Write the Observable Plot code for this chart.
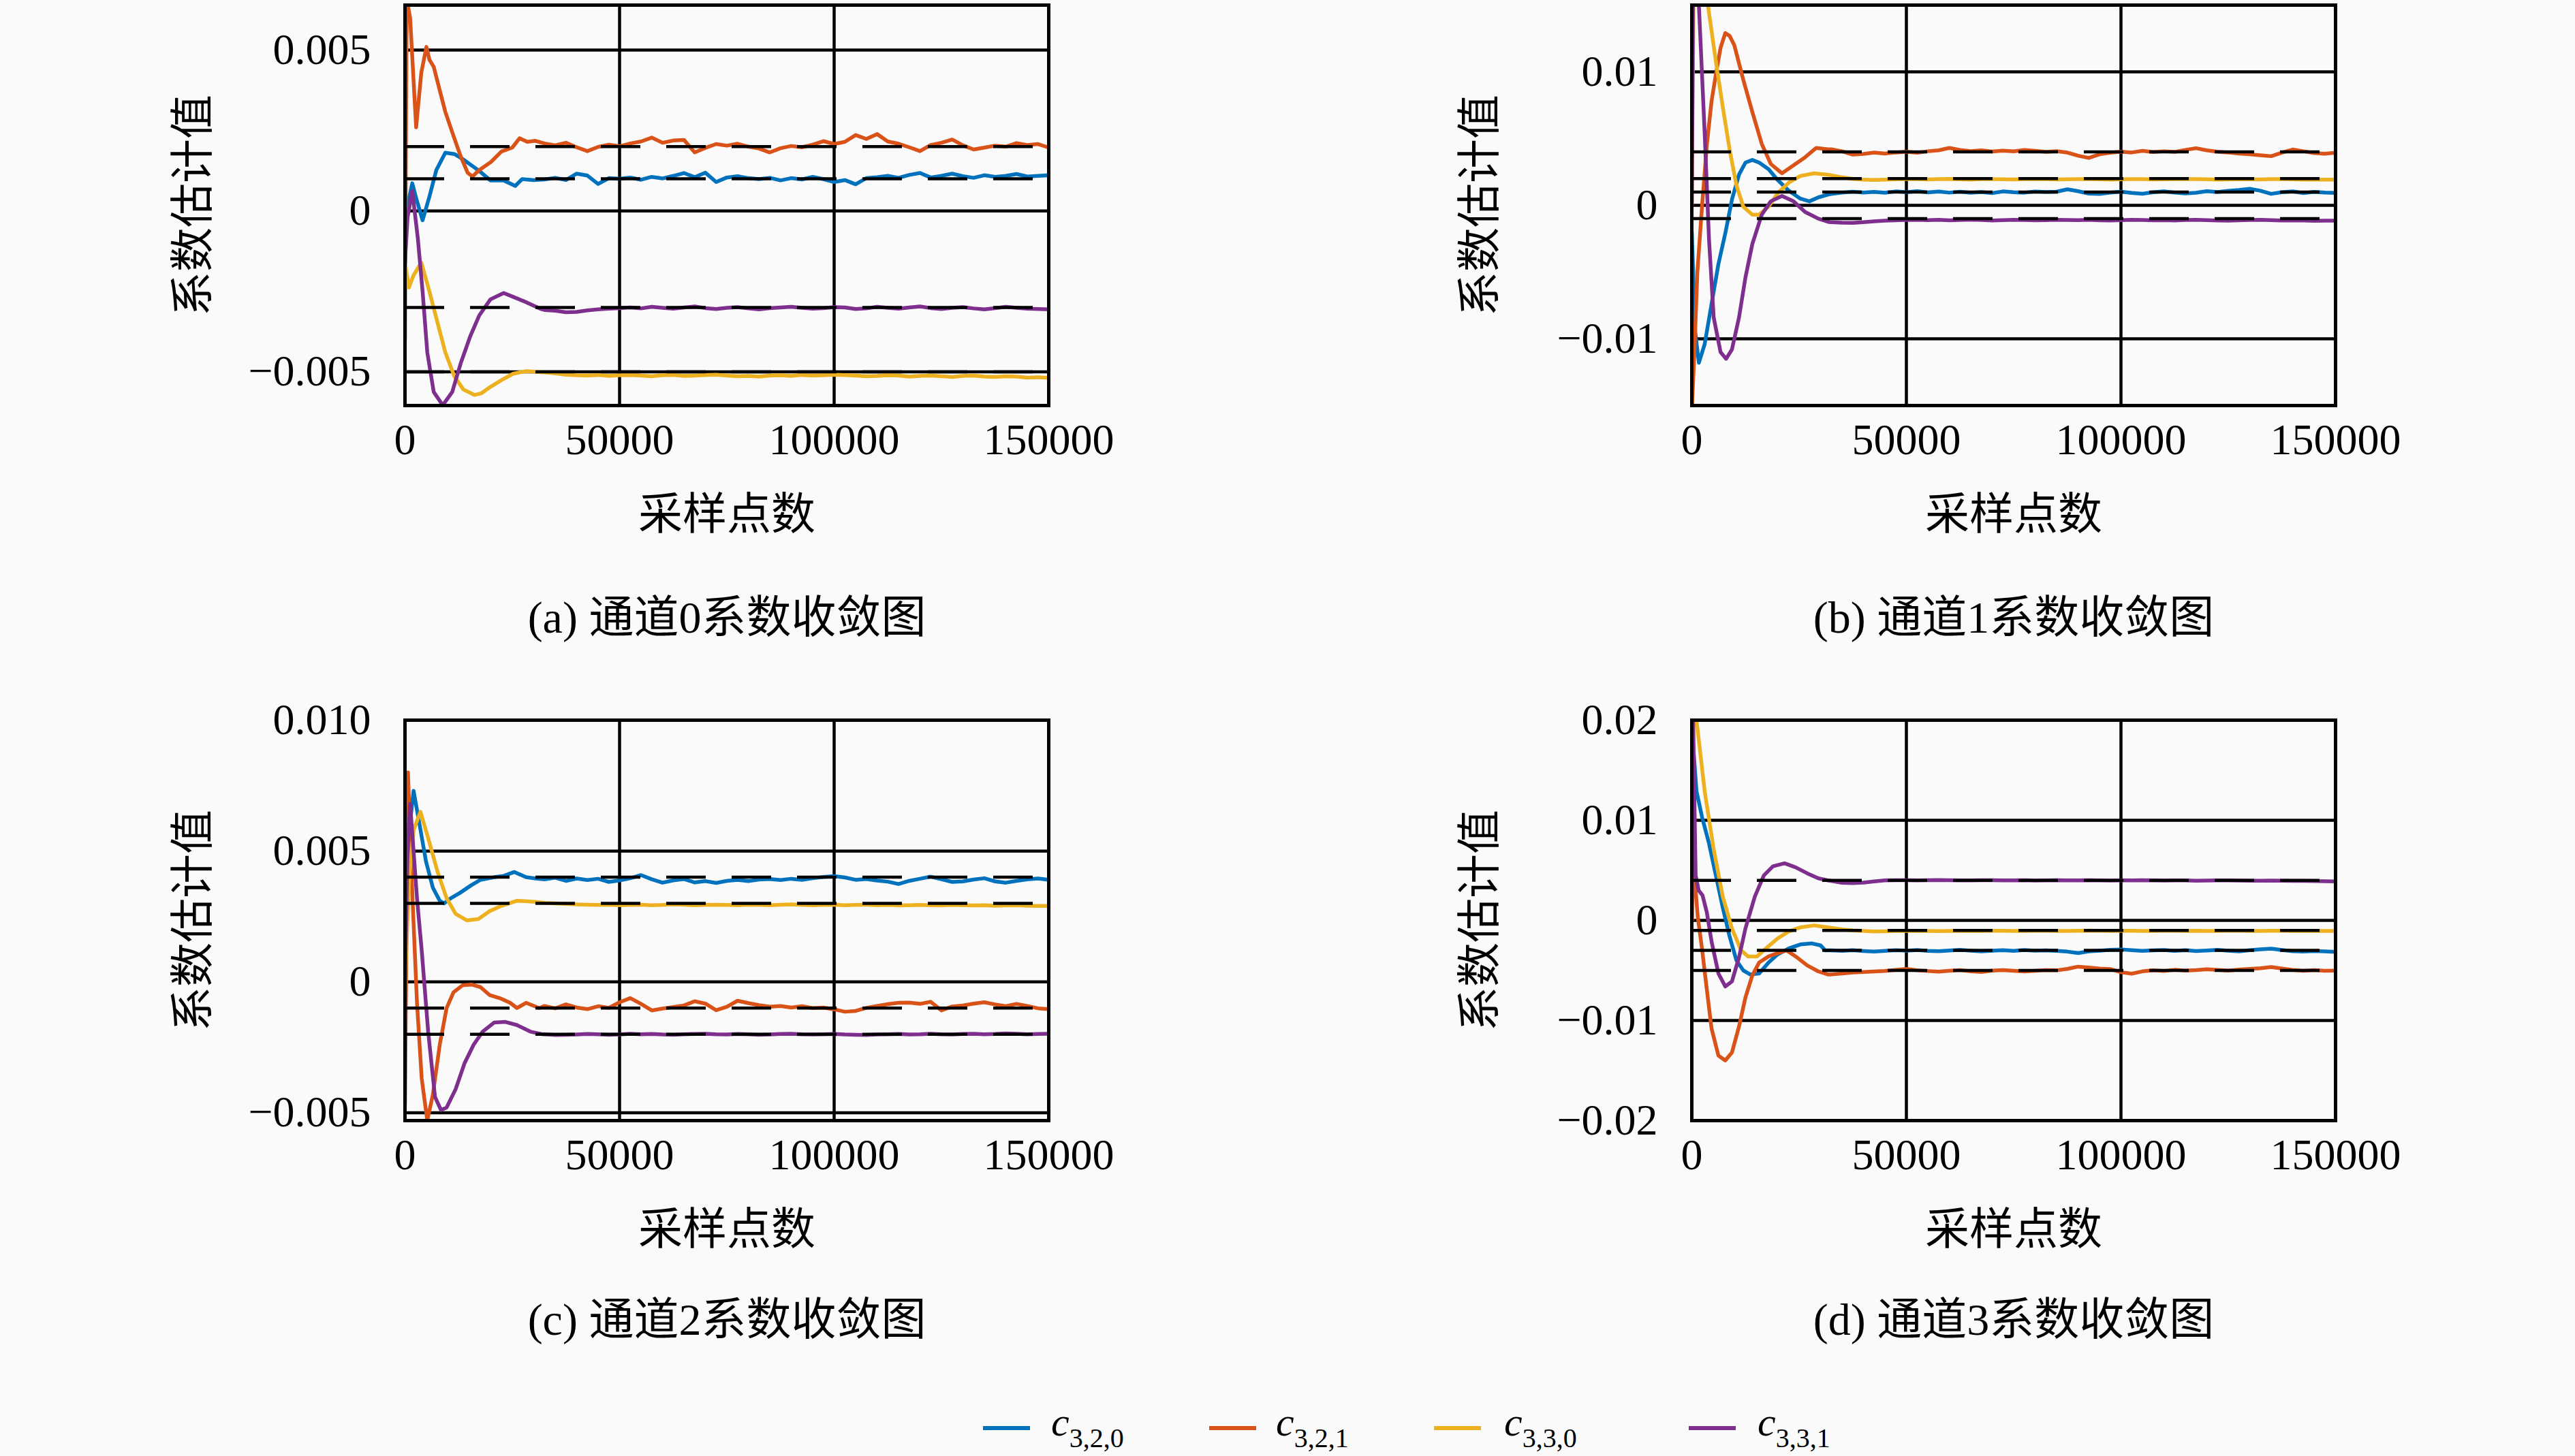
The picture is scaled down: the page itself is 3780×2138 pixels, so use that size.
<!DOCTYPE html>
<html>
<head>
<meta charset="utf-8">
<script src="https://cdn.jsdelivr.net/npm/d3@7"></script>
<script src="https://cdn.jsdelivr.net/npm/@observablehq/plot@0.6"></script>
<style>
  html, body { margin: 0; padding: 0; background: #fafafa; }
  #root { position: relative; width: 3780px; height: 2138px; background: #fafafa; overflow: hidden;
          font-family: "Liberation Serif", "Noto Sans CJK SC", serif; }
  .panel { position: absolute; }
  .panel svg { overflow: visible; }
</style>
</head>
<body>
<div id="root"></div>
<script>
// ---------- shared definitions ----------
const seriesNames = ["c320", "c321", "c330", "c331"];
const seriesColors = ["#0072BD", "#D95319", "#EDB120", "#7E2F8E"];
const legendSub = ["3,2,0", "3,2,1", "3,3,0", "3,3,1"];
const xTicks = [0, 50000, 100000, 150000];
const xLabel = "采样点数";
const yLabel = "系数估计值";
// steady-state sample grid (thousands of samples)
const gridK = [
  32.5, 35, 37.5, 40, 42.5, 45, 47.5, 50,
  52.5, 55, 57.5, 60, 62.5, 65, 67.5, 70,
  72.5, 75, 77.5, 80, 82.5, 85, 87.5, 90,
  92.5, 95, 97.5, 100, 102.5, 105, 107.5, 110,
  112.5, 115, 117.5, 120, 122.5, 125, 127.5, 130,
  132.5, 135, 137.5, 140, 142.5, 145, 147.5, 150
];
// values below are in units of 1e-4; transient x in thousands of samples

// ---------- panel (a) channel 0 ----------
const aTrue = [10, 20, -50, -30];
const aBlueT = [[0,-9],[0.8,3],[1.7,8.6],[2.6,4],[4.1,-2.9],[5.7,4.5],[7.3,12.7],[9.4,18.1],[11.5,17.7],[13.6,16],[15.7,14],[17.8,11.9],[19.9,9.5],[23,9.5],[25.7,7.8],[27.3,9.9],[30,9.6]];
const aBlueS = [
  9.8, 10.3, 9.6, 11.6, 11.0, 8.4, 10.2, 10.0,
  10.4, 9.7, 10.6, 10.1, 10.9, 11.8, 10.5, 11.9,
  9.0, 10.4, 10.8, 10.2, 9.9, 10.3, 9.5, 10.2,
  9.8, 10.6, 9.9, 9.0, 9.6, 8.3, 10.2, 10.5,
  10.9, 10.3, 11.2, 11.8, 10.4, 10.9, 11.6, 10.8,
  10.3, 11.1, 10.6, 10.9, 11.5, 10.7, 10.9, 11.1];
const aOrangeT = [[0,-40],[0.4,66],[1.2,60],[2.6,26],[3.8,43],[5,51],[5.7,47],[6.7,44.8],[8,38],[9.4,30.8],[11.5,22.6],[13,16.9],[14.6,11.9],[15.7,10.7],[17.3,12.7],[20,15.2],[22.5,18.5],[25,19.7],[26.7,22.6],[28.5,21.5],[30.4,21.8]];
const aOrangeS = [
  21.0, 20.4, 21.2, 19.8, 18.6, 19.9, 20.6, 20.1,
  21.0, 21.6, 22.8, 21.2, 21.9, 22.1, 18.2, 19.6,
  20.8, 20.3, 20.9, 20.0, 19.4, 18.2, 19.5, 20.2,
  19.8, 20.6, 21.7, 20.8, 21.5, 23.6, 22.4, 23.9,
  21.6, 20.9, 19.8, 18.6, 20.5, 21.2, 22.2, 20.4,
  19.1, 19.7, 20.3, 20.0, 21.1, 20.5, 20.8, 19.7];
const aYellowT = [[0,-16],[0.9,-23.8],[2,-20],[3.8,-16],[5.7,-25.1],[7.3,-33.3],[9.4,-44],[11.5,-51.4],[13.6,-55.5],[16.2,-57.2],[17.8,-56.7],[19.9,-54.7],[22.5,-52.6],[25.2,-50.6],[28.3,-49.8],[30.5,-50]];
const aYellowS = [
  -50.2, -50.5, -50.9, -51.1, -51.2, -51.0, -51.3, -51.1,
  -51.0, -51.2, -51.4, -51.1, -51.0, -51.3, -51.2, -51.0,
  -50.9, -51.2, -51.4, -51.3, -51.5, -51.2, -51.1, -51.3,
  -51.0, -51.2, -51.1, -50.9, -51.0, -51.2, -51.4, -51.3,
  -51.1, -51.2, -51.5, -51.3, -51.2, -51.4, -51.6, -51.3,
  -51.2, -51.5, -51.6, -51.4, -51.5, -51.8, -51.7, -51.9];
const aPurpleT = [[0,-16],[0.6,-2],[1.7,6.2],[3,-8.6],[4.1,-25],[5.2,-44],[6.7,-56.3],[8.8,-60.4],[11,-56.3],[13,-47.3],[15.2,-39],[17.3,-32.5],[19.9,-27.5],[23,-25.5],[25.2,-26.7],[28.3,-28.4],[31.5,-30.4]];
const aPurpleS = [
  -30.8, -31.0, -31.5, -31.4, -30.9, -30.6, -30.4, -30.2,
  -30.0, -30.3, -29.8, -30.1, -30.4, -30.0, -29.7, -30.2,
  -30.5, -30.1, -29.9, -30.3, -30.6, -30.2, -30.0, -29.8,
  -30.1, -30.4, -30.2, -29.9, -30.0, -30.5, -30.3, -29.8,
  -30.1, -30.4, -30.0, -29.7, -30.2, -30.5, -30.1, -29.9,
  -30.3, -30.6, -30.2, -29.8, -30.1, -30.4, -30.5, -30.6];

// ---------- panel (b) channel 1 ----------
const bTrue = [10, 40, 20, -10];
const bBlueT = [[0,-20],[0.8,-95],[1.65,-118],[3,-104],[4.6,-74],[6.2,-44],[7.8,-21],[9.4,5],[11,23],[12.5,32],[14.1,34],[15.7,32],[17.9,27],[20,19],[22.6,11],[25.3,5],[27.4,3],[29.5,6],[31.7,8]];
const bBlueS = [
  8.5, 9.5, 10.2, 9.6, 10.1, 9.4, 10.4, 9.8,
  10.6, 9.7, 10.3, 9.5, 10.2, 9.4, 10.0, 9.2,
  10.4, 9.8, 9.5, 10.3, 9.9, 10.2, 12.0, 10.6,
  8.8, 8.5, 9.6, 10.2, 9.3, 8.7, 9.8, 10.5,
  9.6, 8.9, 9.4, 10.6, 10.0, 10.8, 11.5, 12.4,
  10.9, 8.6, 9.8, 10.5, 9.2, 10.1, 9.6, 9.3];
const bOrangeT = [[0,-155],[0.6,-110],[1.3,-50],[2.4,0],[3.5,45],[4.6,78],[5.6,98],[6.7,118],[7.8,129],[8.8,127],[9.9,120],[12,94],[14.1,70],[16.3,46],[18.4,31],[21,24],[23.7,30],[26.4,36],[29,43],[31.7,42]];
const bOrangeS = [
  42.0, 40.5, 38.0, 38.5, 39.5, 38.8, 39.6, 40.2,
  39.4, 40.5, 41.2, 43.0, 41.5, 40.6, 41.2, 40.3,
  41.0, 40.4, 41.5, 40.8, 40.1, 40.6, 39.5, 37.2,
  35.5, 38.2, 39.4, 40.2, 39.6, 40.8, 39.9, 40.5,
  40.0, 41.5, 42.8, 41.2, 40.2, 39.6, 38.8, 38.2,
  37.5, 36.8, 39.5, 41.8, 40.5, 39.2, 38.6, 39.4];
const bYellowT = [[0,0],[0.4,160],[2,175],[3.8,149],[5.6,108],[7.2,74],[8.8,42],[10.4,15],[12,-1],[14.1,-7],[15.7,-7],[17.9,-1],[20,9],[22.6,17],[25.3,22],[28.5,24],[31.7,23]];
const bYellowS = [
  22.5, 21.0, 19.8, 19.2, 19.0, 19.3, 19.5, 19.7,
  19.6, 19.4, 19.6, 19.8, 19.5, 19.3, 19.6, 19.7,
  19.5, 19.4, 19.6, 19.8, 19.6, 19.4, 19.5, 19.7,
  19.6, 19.5, 19.3, 19.5, 19.7, 19.6, 19.4, 19.5,
  19.6, 19.8, 19.6, 19.5, 19.3, 19.4, 19.6, 19.5,
  19.4, 19.6, 19.7, 19.5, 19.3, 19.4, 19.3, 19.2];
const bPurpleT = [[0,0],[0.3,160],[1.0,170],[1.65,150],[3,54],[4,-25],[5.1,-84],[6.7,-110],[8,-115],[9.35,-108],[11,-84],[12.5,-54],[14.1,-29],[16.3,-7],[18.4,3],[21,7],[23.7,3],[26.4,-5],[29.5,-10],[32,-12.5]];
const bPurpleS = [
  -12.6, -13.0, -13.1, -12.6, -12.0, -11.5, -11.2, -11.0,
  -10.8, -11.1, -10.9, -11.2, -11.0, -10.7, -11.0, -11.3,
  -11.1, -10.9, -11.0, -11.2, -11.1, -10.8, -11.0, -11.1,
  -10.9, -11.2, -11.4, -11.1, -10.9, -11.0, -11.2, -11.1,
  -11.3, -11.0, -10.8, -11.1, -11.4, -11.5, -11.2, -11.0,
  -10.9, -11.1, -11.3, -11.2, -11.4, -11.6, -11.5, -11.5];

// ---------- panel (c) channel 2 ----------
const cTrue = [40, -10, 30, -20];
const cBlueT = [[0,0],[0.8,55],[2,73],[3.3,61],[4.9,46],[6.5,36],[8.1,31],[9.1,30],[10.7,32],[12.8,34],[15.5,37],[17.6,39],[20.8,40],[23,40.5],[25.5,42],[28.2,40],[30.5,39.5]];
const cBlueS = [
  39.2, 39.8, 38.6, 39.5, 38.9, 39.4, 38.2, 38.8,
  39.6, 40.8, 39.2, 37.9, 38.8, 39.3, 38.0, 38.5,
  37.8, 38.6, 39.0, 38.5, 39.1, 39.3, 38.9, 39.4,
  39.0, 39.6, 40.1, 40.4, 39.9, 39.0, 39.3, 38.7,
  38.3, 37.4, 38.6, 39.4, 40.2, 39.2, 38.2, 38.4,
  39.1, 39.6, 38.4, 37.9, 38.6, 39.2, 39.5, 39.0];
const cOrangeT = [[0,-47],[0.7,80],[1.75,32],[2.8,-8],[3.9,-37],[5.2,-53],[6.5,-43],[8.1,-24],[9.7,-10],[11.3,-4],[13.4,-1.3],[15.5,-1],[17.6,-2],[19.7,-5],[22.4,-6.4],[24.5,-8],[26.1,-10],[28.2,-8],[31.3,-10]];
const cOrangeS = [
  -9.2, -10.1, -8.6, -9.8, -10.4, -9.3, -9.9, -7.8,
  -6.2, -8.4, -10.9, -10.2, -9.6, -9.0, -7.4, -8.3,
  -10.8, -9.5, -7.2, -8.1, -8.9, -9.5, -9.2, -9.8,
  -9.3, -10.0, -9.8, -10.5, -11.4, -11.1, -9.9, -9.2,
  -8.5, -8.0, -7.9, -8.4, -7.6, -10.9, -9.4, -9.0,
  -8.3, -7.8, -8.6, -9.3, -8.4, -9.2, -10.1, -10.4];
const cYellowT = [[0,0],[1,40],[2,58],[3.6,65],[5.4,55],[7.6,42],[9.7,32],[11.8,26],[14.4,23.5],[17.1,24],[19.7,27],[22.4,29],[26.1,31],[30.3,30.6]];
const cYellowS = [
  30.2, 30.0, 29.8, 29.6, 29.5, 29.4, 29.5, 29.3,
  29.4, 29.5, 29.3, 29.4, 29.6, 29.5, 29.3, 29.4,
  29.5, 29.4, 29.3, 29.5, 29.4, 29.3, 29.5, 29.6,
  29.4, 29.3, 29.4, 29.5, 29.3, 29.4, 29.5, 29.3,
  29.4, 29.2, 29.3, 29.4, 29.3, 29.2, 29.4, 29.3,
  29.2, 29.3, 29.1, 29.2, 29.3, 29.1, 29.0, 29.0];
const cPurpleT = [[0,0],[0.6,50],[1.2,68],[2.8,32],[3.9,12],[5.4,-19],[7,-44],[8.4,-49],[9.7,-48],[11.8,-41],[13.9,-31],[16,-24],[18.1,-19],[20.8,-15.5],[23.4,-15.3],[26.1,-16.5],[29.2,-19],[32,-20]];
const cPurpleS = [
  -20.0, -20.3, -20.2, -20.1, -19.9, -20.0, -20.2, -20.1,
  -19.8, -20.0, -19.9, -20.1, -20.2, -20.0, -19.9, -19.8,
  -20.0, -20.1, -19.9, -20.0, -20.2, -20.1, -19.9, -19.8,
  -20.0, -20.1, -20.0, -19.9, -20.1, -20.2, -20.3, -20.1,
  -20.0, -19.9, -20.1, -20.0, -19.8, -20.0, -20.1, -19.9,
  -19.8, -20.0, -19.9, -19.7, -19.8, -20.0, -19.9, -19.8];

// ---------- panel (d) channel 3 ----------
const dTrue = [-30, -50, -10, 40];
const dBlueT = [[0,200],[0.4,170],[1.1,129],[2.4,103],[4,77],[5.6,45],[7.2,13],[8.8,-16],[10.4,-40],[12,-50],[13.6,-54],[15.7,-53],[17.9,-42],[20,-34],[22.6,-28],[25.3,-24],[28,-23],[30,-25],[31.1,-30]];
const dBlueS = [
  -30.0, -30.5, -29.8, -30.6, -31.2, -30.4, -29.8, -30.2,
  -29.6, -30.4, -30.8, -30.1, -29.5, -30.2, -30.9, -30.3,
  -29.8, -30.4, -29.6, -30.2, -29.9, -30.5, -31.2, -32.6,
  -31.0, -30.2, -29.4, -29.0, -29.8, -30.5, -30.0, -29.6,
  -30.4, -29.8, -30.6, -30.1, -29.5, -30.3, -31.0, -29.8,
  -28.9, -28.2, -29.6, -30.8, -31.2, -30.6, -30.9, -31.4];
const dOrangeT = [[0,0],[0.3,48],[0.7,40],[1.4,3],[2.4,-29],[3.5,-69],[4.6,-108],[6.2,-135],[7.8,-140],[9.35,-132],[11,-106],[12.5,-77],[14.1,-55],[15.7,-42],[17.9,-36],[20.5,-32],[22.1,-30],[24.2,-36],[26.9,-45],[29.5,-51],[31.7,-54]];
const dOrangeS = [
  -54.0, -53.0, -52.0, -51.5, -51.0, -50.5, -49.5, -48.5,
  -49.8, -50.6, -51.2, -50.4, -49.6, -50.8, -51.5, -50.2,
  -49.6, -50.4, -51.0, -50.3, -49.7, -49.9, -48.5, -46.2,
  -47.1, -48.2, -48.6, -51.8, -53.2, -50.9, -49.8, -50.5,
  -49.4, -50.1, -49.6, -48.8, -49.5, -50.2, -49.1, -48.4,
  -47.8, -46.6, -48.1, -49.5, -50.3, -49.6, -50.4, -50.1];
const dYellowT = [[0,0],[0.4,210],[1.1,200],[3,129],[5.1,71],[7.2,24],[9.35,-8],[11.5,-30],[13.1,-36],[15.2,-36],[17.3,-28],[20,-18],[22.6,-11],[25.3,-7],[28.5,-5],[31.7,-7]];
const dYellowS = [
  -7.5, -9.0, -10.0, -10.5, -11.0, -10.8, -10.6, -10.5,
  -10.4, -10.6, -10.7, -10.5, -10.4, -10.6, -10.5, -10.3,
  -10.4, -10.6, -10.5, -10.4, -10.3, -10.5, -10.6, -10.4,
  -10.2, -10.4, -10.5, -10.3, -10.4, -10.6, -10.5, -10.4,
  -10.3, -10.5, -10.4, -10.6, -10.5, -10.3, -10.4, -10.5,
  -10.6, -10.4, -10.3, -10.5, -10.6, -10.4, -10.5, -10.5];
const dPurpleT = [[0,0],[0.3,200],[0.9,45],[1.6,30],[2.5,25],[3.5,8],[4.6,-21],[6.2,-53],[7.8,-66],[9.35,-61],[11,-37],[12.5,-8],[14.7,24],[16.8,45],[18.9,54],[21.6,57],[24.2,53],[26.9,47],[29.5,42],[31.7,40]];
const dPurpleS = [
  39.5, 37.5, 37.2, 37.8, 39.0, 40.0, 40.2, 40.1,
  40.0, 40.2, 40.3, 40.1, 39.9, 40.0, 40.2, 40.1,
  39.9, 40.0, 40.1, 39.8, 40.0, 40.2, 40.0, 39.9,
  40.1, 40.0, 39.8, 39.9, 40.0, 40.1, 39.9, 39.8,
  40.0, 39.9, 39.7, 39.8, 40.0, 39.9, 39.8, 39.7,
  39.6, 39.8, 39.7, 39.5, 39.4, 39.3, 39.2, 39.0];

// ---------- build ----------
const fmtFixed = (digits) => (d) => d === 0 ? "0" : d3.format("." + digits + "f")(d);
const FONT = '"Liberation Serif", "Noto Sans CJK SC", serif';

const panels = [
  { left: 0,    top: 0,    mL: 594, mR: 351, domain: [-0.00605, 0.0064], yTicks: [-0.005, 0, 0.005], fmt: fmtFixed(3),
    caption: "(a) 通道0系数收敛图", capDy: 312, truth: aTrue,
    series: [[aBlueT, aBlueS], [aOrangeT, aOrangeS], [aYellowT, aYellowS], [aPurpleT, aPurpleS]] },
  { left: 1890, top: 0,    mL: 593, mR: 352, domain: [-0.015, 0.015], yTicks: [-0.01, 0, 0.01], fmt: fmtFixed(2),
    caption: "(b) 通道1系数收敛图", capDy: 312, truth: bTrue,
    series: [[bBlueT, bBlueS], [bOrangeT, bOrangeS], [bYellowT, bYellowS], [bPurpleT, bPurpleS]] },
  { left: 0,    top: 1050, mL: 594, mR: 351, domain: [-0.0053, 0.010], yTicks: [-0.005, 0, 0.005, 0.010], fmt: fmtFixed(3),
    caption: "(c) 通道2系数收敛图", capDy: 293, truth: cTrue,
    series: [[cBlueT, cBlueS], [cOrangeT, cOrangeS], [cYellowT, cYellowS], [cPurpleT, cPurpleS]] },
  { left: 1890, top: 1050, mL: 593, mR: 352, domain: [-0.02, 0.02], yTicks: [-0.02, -0.01, 0, 0.01, 0.02], fmt: fmtFixed(2),
    caption: "(d) 通道3系数收敛图", capDy: 293, truth: dTrue,
    series: [[dBlueT, dBlueS], [dOrangeT, dOrangeS], [dYellowT, dYellowS], [dPurpleT, dPurpleS]] }
];

const root = document.getElementById("root");

panels.forEach(p => {
  const rows = [];
  p.series.forEach(([trans, steady], i) => {
    trans.forEach(([k, v]) => rows.push({ x: k * 1000, y: v * 1e-4, s: seriesNames[i] }));
    steady.forEach((v, j) => rows.push({ x: gridK[j] * 1000, y: v * 1e-4, s: seriesNames[i] }));
  });
  const truthRows = p.truth.map(v => ({ y: v * 1e-4 }));
  const chart = Plot.plot({
    width: 1890, height: 1000,
    marginLeft: p.mL, marginRight: p.mR, marginTop: 7, marginBottom: 405,
    style: { background: "transparent", fontFamily: FONT, fontSize: "64px", color: "black", overflow: "visible" },
    x: { domain: [0, 150000] },
    y: { domain: p.domain },
    color: { domain: seriesNames, range: seriesColors },
    marks: [
      Plot.gridX(xTicks, { stroke: "black", strokeOpacity: 1, strokeWidth: 4.5 }),
      Plot.gridY(p.yTicks, { stroke: "black", strokeOpacity: 1, strokeWidth: 4.5 }),
      Plot.line(rows, { x: "x", y: "y", z: "s", stroke: "s", strokeWidth: 5.5, clip: true }),
      Plot.ruleY(truthRows, { y: "y", stroke: "black", strokeWidth: 4.5, strokeDasharray: "58,38" }),
      Plot.frame({ stroke: "black", strokeWidth: 5 }),
      Plot.axisX(xTicks, { tickSize: 0, tickPadding: 26, tickFormat: d => String(d), label: null, fontSize: 64 }),
      Plot.axisY(p.yTicks, { tickSize: 0, tickPadding: 50, tickFormat: p.fmt, label: null, fontSize: 64 }),
      Plot.text([xLabel], { text: d => d, frameAnchor: "bottom", lineAnchor: "middle", textAnchor: "middle", dy: 161, fontSize: 65, fill: "black" }),
      Plot.text([yLabel], { text: d => d, frameAnchor: "left", lineAnchor: "middle", textAnchor: "middle", dx: -310, rotate: -90, fontSize: 65, fill: "black" }),
      Plot.text([p.caption], { text: d => d, frameAnchor: "bottom", lineAnchor: "middle", textAnchor: "middle", dy: p.capDy, fontSize: 66, fill: "black" })
    ]
  });
  const div = document.createElement("div");
  div.className = "panel";
  div.style.left = p.left + "px";
  div.style.top = p.top + "px";
  div.appendChild(chart);
  root.appendChild(div);
});

// ---------- legend ----------
const legendSwatchX = [1443, 1775, 2105, 2479];
const legendTextX = [1543, 1873, 2208, 2580];
const legend = d3.create("svg")
  .attr("width", 3780).attr("height", 98)
  .style("position", "absolute").style("left", "0px").style("top", "2040px")
  .style("font-family", FONT);
seriesNames.forEach((name, i) => {
  legend.append("line")
    .attr("x1", legendSwatchX[i]).attr("x2", legendSwatchX[i] + 69)
    .attr("y1", 57).attr("y2", 57)
    .attr("stroke", seriesColors[i]).attr("stroke-width", 6);
  const t = legend.append("text").attr("x", legendTextX[i]).attr("y", 68).attr("font-size", 60).attr("fill", "black");
  t.append("tspan").attr("font-style", "italic").text("c");
  t.append("tspan").attr("font-size", 40).attr("dy", 17).text(legendSub[i]);
});
root.appendChild(legend.node());
</script>
</body>
</html>
